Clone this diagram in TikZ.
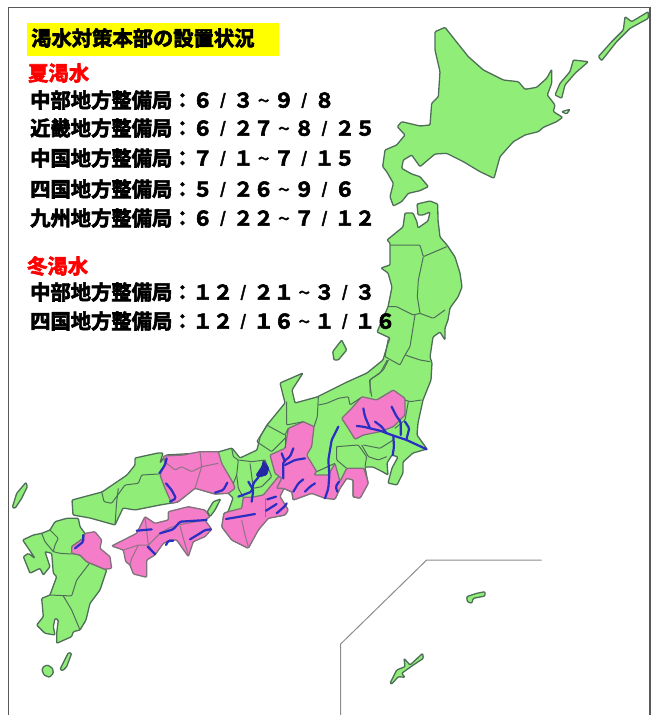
\documentclass[tikz,border=0pt]{standalone}
\usepackage{fontspec}
\setmainfont{Noto Sans CJK JP}
\newfontfamily\jpb[FakeBold=3]{Noto Sans CJK JP Bold}
\definecolor{landg}{HTML}{90EE78}
\definecolor{landp}{HTML}{F47CC8}
\definecolor{edge}{HTML}{4E6E58}
\definecolor{riv}{HTML}{2A2FC4}
\definecolor{hl}{HTML}{FFFF00}
\newcommand\sla{\makebox[20.3pt]{\raisebox{2.5pt}{\fontsize{15}{18}\selectfont /}}}
\newcommand\til{\makebox[20.3pt]{\raisebox{3pt}{\fontsize{11}{12}\selectfont ～}}}
\tikzset{
  za/.style={shift={(340,0)},x=0.33333pt,y=-0.33333pt},
  zb/.style={shift={(330,200)},x=0.33333pt,y=-0.33333pt},
  zc/.style={shift={(240,360)},x=0.33333pt,y=-0.33333pt},
  zd/.style={shift={(10,450)},x=0.33333pt,y=-0.33333pt},
  ze/.style={shift={(0,470)},x=0.33333pt,y=-0.33333pt},
  zf/.style={shift={(330,550)},x=0.33333pt,y=-0.33333pt},
  zg/.style={shift={(105,500)},x=0.33333pt,y=-0.33333pt},
  zh/.style={shift={(150,420)},x=0.33333pt,y=-0.33333pt},
  gr/.style={fill=landg,draw=edge,line width=1.3pt,rounded corners=1pt,line join=round},
  pk/.style={fill=landp,draw=edge!70!landp,line width=1.3pt,rounded corners=1pt,line join=round},
  bd/.style={draw=edge,line width=1pt,rounded corners=1pt},
  bp/.style={draw=edge!60!landp,line width=1pt,rounded corners=1pt},
  rv/.style={draw=riv,line width=2.2pt,rounded corners=1.5pt,line cap=round},
  txt/.style={anchor=west,inner sep=0pt,font=\jpb\fontsize{20.3}{24}\selectfont},
  red/.style={txt,text=red}
}
\begin{document}
\begin{tikzpicture}[x=1pt,y=-1pt]
\useasboundingbox (0,0) rectangle (651,715);
% frame
\draw[line width=1.3pt,draw=black!65] (8.5,725) -- (8.5,7.5) -- (650,7.5) -- (650,725);
% inset line
\begin{scope}[zf]
\draw[line width=1pt,draw=black!45] (32,495) -- (32,282) -- (290,30) -- (635,30);
\path[gr] (180,400)--(200,360)--(225,350)--(222,325)--(240,345)--(278,310)--(280,325)--(250,345)--(215,370)--(225,382)--(205,380)--(185,402)--cycle;
\path[gr] (410,140)--(440,130)--(465,125)--(465,138)--(430,145)--(425,160)--(412,155)--cycle;
\end{scope}
% Hokkaido
\begin{scope}[za]
\path[gr] (285,95)--(315,82)--(345,120)--(385,170)--(430,210)--(490,240)--(535,245)--(555,268)--(590,262)--(620,235)--(635,208)--(635,250)--(622,285)--(645,315)--(640,335)--(668,352)--(650,365)--(610,382)--(595,395)--(555,405)--(520,425)--(480,470)--(462,535)--(420,515)--(370,485)--(320,460)--(285,462)--(240,500)--(215,465)--(190,480)--(185,505)--(215,522)--(240,530)--(265,560)--(240,572)--(205,580)--(185,605)--(160,618)--(150,590)--(160,550)--(140,515)--(128,500)--(135,450)--(170,435)--(195,405)--(172,380)--(185,365)--(240,378)--(270,375)--(275,310)--(295,290)--(300,215)--(285,150)--cycle;
\path[gr] (645,285)--(660,250)--(690,215)--(700,180)--(745,185)--(705,220)--(675,255)--(665,295)--cycle;
\path[gr] (775,170)--(815,125)--(850,90)--(855,50)--(875,65)--(925,35)--(925,55)--(870,85)--(830,125)--(785,182)--cycle;
\path[gr,fill=landg!60!white] (665,335)--(690,328)--(680,342)--cycle;
\end{scope}
% Honshu
\path[gr] (403,227)--(405,213)--(413,213)--(417,222)--(418,228)--(428,221)--(430,212)--(423,215)--(418,215)--(417,204)--(430,201)--(437.7,204)--(438,220)--(440,237)--(447,245)--(455,257)--(460,273)--(462,287)--(458,297)--(450,308)--(448,320)--(445,328)--(445,340)--(440,332)--(433,337)--(430,357)--(432,363)--(431,380)--(423,400)--(418,423)--(417,435)--(427,449)--(413,453)--(403,462)--(403,473)--(397,485)--(388,483)--(392,468)--(398,457)--(392,455)--(387,463)--(388,475)--(383,472)--(373,467)--(365,467)--(368,483)--(360,498)--(353,497)--(353,480)--(347,478)--(340,488)--(335,499)--(325,498)--(312,493)--(293,500)--(292,492)--(283,488)--(277,488)--(280,497)--(288,510)--(285,515)--(268,518)--(258,530)--(248,548)--(232,540)--(222,527)--(224,513)--(228,512)--(233,498)--(228,493)--(215,494)--(195,488)--(178,502)--(172,503)--(160,505)--(150,507)--(135,510)--(123,508)--(115,525)--(90,518)--(73,515)--(72,500)--(102,492)--(127,475)--(135,465)--(135,458)--(158,453)--(163,453)--(160,463)--(166,455)--(200,453)--(218,452)--(232,448)--(240,458)--(257,450)--(260,437)--(267,425)--(285,403)--(280,383)--(303,373)--(292,390)--(295,403)--(317,397)--(347,382)--(367,373)--(383,360)--(388,343)--(390,338)--(377,332)--(388,307)--(392,287)--(388,273)--(381,268)--(390,265)--(390,243)--(387,240)--cycle;
% Kyushu, islands
\begin{scope}[ze]
\path[gr] (68,210)--(100,195)--(125,190)--(150,180)--(165,155)--(200,145)--(235,145)--(240,170)--(255,190)--(250,205)--(215,230)--(215,250)--(240,255)--(260,275)--(315,298)--(320,300)--(300,360)--(270,400)--(258,450)--(240,480)--(220,485)--(215,500)--(170,520)--(170,490)--(175,450)--(165,445)--(160,470)--(165,495)--(135,490)--(110,465)--(130,440)--(125,385)--(150,375)--(170,320)--(160,310)--(155,250)--(135,245)--(150,290)--(130,315)--(120,295)--(90,310)--(70,260)--(85,250)--(105,265)--cycle;
\path[gr] (180,598)--(205,548)--(215,550)--(200,590)--(188,602)--cycle;
\path[gr] (143,585)--(158,595)--(160,610)--(148,622)--(132,615)--(126,600)--(130,590)--cycle;
\path[gr] (37,112)--(50,70)--(78,37)--(82,50)--(65,85)--(45,115)--cycle;
\draw[bd] (125,190)--(135,215)--(160,245)--(180,250)--(215,252);
\draw[bd] (160,245)--(165,225)--(175,205)--(150,180);
\draw[bd] (150,375)--(215,378)--(230,330)--(270,278);
\draw[bd] (190,378)--(215,420)--(240,480);
\path[pk] (215,230)--(250,205)--(255,190)--(285,185)--(305,210)--(300,235)--(330,260)--(335,295)--(315,298)--(260,275)--(240,255)--(215,250)--cycle;
\draw[rv] (250,195)--(250,215)--(225,235);
\end{scope}
% West Chugoku borders
\begin{scope}[zd]
\draw[bd] (275,125)--(282,155)--(305,160)--(345,105)--(385,100)--(395,75)--(445,72);
\draw[bd] (325,115)--(320,155)--(315,225);
\end{scope}
% Shikoku
\begin{scope}[zg]
\path[pk] (20,138)--(95,100)--(120,50)--(150,70)--(190,60)--(190,35)--(250,20)--(300,30)--(315,50)--(300,60)--(320,88)--(300,110)--(265,125)--(250,170)--(215,120)--(195,120)--(175,130)--(150,165)--(125,180)--(125,232)--(85,222)--(75,195)--(62,185)--(55,150)--cycle;
\draw[bp] (120,50)--(130,135)--(150,165);
\draw[bp] (130,135)--(165,100)--(190,85)--(220,75)--(300,60);
\draw[bp] (225,78)--(235,115)--(250,165);
\draw[bp] (55,150)--(100,135)--(130,135);
\draw[bp] (100,135)--(80,175)--(75,195);
\draw[rv] (95,92)--(140,88);
\draw[rv] (165,100)--(205,88)--(225,65)--(305,60);
\draw[rv] (255,118)--(285,100)--(300,90)--(318,88);
\draw[rv] (128,140)--(150,162);
\draw[rv] (183,135)--(190,122)--(205,122);
\end{scope}
% Kinki + east Chugoku
\begin{scope}[zh]
\path[gr] (172,275)--(190,245)--(212,237)--(195,270)--(180,290)--cycle;
\path[pk] (40,108)--(100,105)--(150,95)--(205,95)--(215,130)--(250,190)--(255,205)--(235,220)--(195,222)--(135,205)--(85,245)--(65,250)--(45,205)--(30,165)--(45,130)--cycle;
\path[pk] (280,232)--(305,232)--(340,225)--(385,170)--(425,165)--(405,200)--(390,230)--(415,270)--(405,285)--(355,295)--(325,330)--(295,385)--(245,360)--(215,320)--(222,280)--(235,275)--(275,265)--cycle;
\draw[bp] (50,130)--(75,150)--(95,140)--(125,155)--(155,140)--(205,130);
\draw[bp] (150,95)--(155,140)--(135,205);
\draw[bp] (275,300)--(285,345)--(295,380);
\draw[bp] (345,235)--(345,290);
\draw[bd] (245,85)--(250,110)--(265,120)--(260,165)--(250,190);
\draw[bd] (265,120)--(305,125)--(345,120);
\draw[bd] (300,130)--(310,205)--(335,200)--(365,170)--(345,120);
\draw[bd] (260,165)--(265,205)--(280,232);
\draw[bd] (355,10)--(320,65)--(365,95)--(410,50);
\draw[rv] (228,297)--(270,290)--(315,282);
\draw[rv] (352,238)--(378,230);
\draw[rv] (348,272)--(380,252);
\draw[rv] (380,280)--(405,258)--(410,250);
\draw[rv] (50,115)--(45,135)--(28,160);
\draw[rv] (48,190)--(65,210)--(78,235)--(60,245);
\draw[rv] (195,218)--(220,210)--(232,188);
\path[fill=riv!85!black,draw=riv!85!black,line width=.6pt,rounded corners=1pt] (340,120)--(357,145)--(350,165)--(325,172)--(318,165)--(335,140)--cycle;
\draw[rv] (325,172)--(310,190)--(305,215)--(265,230);
\draw[rv] (295,185)--(310,210)--(305,245);
\end{scope}
% Central Honshu
\begin{scope}[zc]
\path[pk] (305,175)--(335,145)--(365,110)--(410,120)--(460,90)--(495,115)--(495,165)--(460,200)--(420,215)--(370,225)--(345,238)--(325,205)--cycle;
\path[pk] (90,285)--(135,265)--(145,205)--(190,185)--(222,200)--(215,260)--(200,285)--(230,335)--(222,345)--(265,345)--(285,310)--(300,365)--(320,325)--(372,325)--(385,370)--(360,415)--(340,410)--(340,360)--(320,355)--(300,385)--(285,418)--(255,415)--(215,400)--(160,420)--(155,395)--(130,385)--(110,385)--(125,355)--(105,340)--cycle;
\draw[bd] (390,100)--(390,60)--(430,30)--(445,0);
\draw[bd] (495,120)--(510,125)--(545,120);
\draw[bd] (505,125)--(495,180)--(465,205);
\draw[bd] (370,255)--(420,265)--(460,240);
\draw[bd] (365,255)--(385,290)--(415,300)--(440,290);
\draw[bd] (290,260)--(355,255)--(380,290)--(375,320);
\draw[bd] (290,260)--(290,300)--(320,325);
\draw[bd] (235,135)--(260,130)--(295,115)--(325,110)--(330,135)--(360,115);
\draw[bd] (235,110)--(232,170)--(222,200);
\draw[bd] (140,125)--(140,195)--(190,185);
\draw[bd] (80,195)--(135,225)--(145,205);
\draw[bd] (135,225)--(135,265);
\draw[bd] (230,335)--(285,310);
\draw[rv] (560,268)--(500,240)--(455,225)--(420,212)--(390,205)--(370,200)--(350,198);
\draw[rv] (370,145)--(375,170)--(390,205);
\draw[rv] (405,185)--(425,200)--(440,220);
\draw[rv] (455,140)--(470,170)--(482,185)--(482,225);
\draw[rv] (495,185)--(508,205)--(500,235);
\draw[rv] (460,228)--(462,260)--(458,285);
\draw[rv] (295,200)--(275,240)--(265,300)--(268,345)--(265,385)--(255,415);
\draw[rv] (297,365)--(287,380)--(292,395);
\draw[rv] (160,265)--(150,290)--(130,305)--(130,330)--(130,355);
\draw[rv] (125,280)--(135,305);
\draw[rv] (195,295)--(165,300)--(135,315);
\draw[rv] (190,358)--(175,370)--(160,395);
\draw[rv] (225,370)--(210,380)--(195,395);
\end{scope}
% Tohoku borders, Sado
\begin{scope}[zb]
\path[gr] (8,455)--(35,420)--(45,440)--(50,450)--(25,480)--(12,480)--cycle;
\draw[bd] (180,135)--(270,135)--(280,170)--(350,140);
\draw[bd] (280,170)--(265,240)--(262,290)--(270,340);
\draw[bd] (175,320)--(200,320)--(250,345)--(270,340)--(310,355)--(345,330);
\draw[bd] (255,345)--(240,440)--(225,465)--(270,480)--(300,485);
\draw[bd] (175,415)--(165,470)--(210,495)--(225,465);
\draw[bd] (172,480)--(150,520)--(118,540)--(125,590);
\end{scope}
% Title and text
\node[fill=hl,minimum width=252pt,minimum height=33pt,inner sep=0pt,anchor=north west] (hdr) at (27,23) {};
\node[txt] (title) at (31,38) {渇水対策本部の設置状況};
\node[red] (summer) at (28,73) {夏渇水};
\node[txt] (s1) at (30,100) {中部地方整備局：６\sla３\til９\sla８};
\node[txt] (s2) at (30,128) {近畿地方整備局：６\sla２７\til８\sla２５};
\node[txt] (s3) at (30,158) {中国地方整備局：７\sla１\til７\sla１５};
\node[txt] (s4) at (30,189) {四国地方整備局：５\sla２６\til９\sla６};
\node[txt] (s5) at (30,218) {九州地方整備局：６\sla２２\til７\sla１２};
\node[red] (winter) at (27,266) {冬渇水};
\node[txt] (w1) at (30,292) {中部地方整備局：１２\sla２１\til３\sla３};
\node[txt] (w2) at (30,321) {四国地方整備局：１２\sla１６\til１\sla１６};
\end{tikzpicture}
\end{document}
